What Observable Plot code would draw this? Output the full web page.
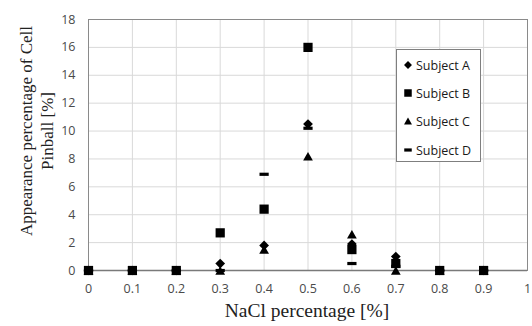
<!DOCTYPE html>
<html>
<head>
<meta charset="utf-8">
<script src="https://cdn.jsdelivr.net/npm/d3@7"></script>
<script src="https://cdn.jsdelivr.net/npm/@observablehq/plot@0.6"></script>
<style>
  body { margin: 0; background: #fff; }
  #wrap { position: relative; width: 532px; height: 326px; }
  #legend { position: absolute; left: 396px; top: 49px; width: 85px; height: 113px;
    border: 1px solid #7f7f7f; background: #fff; font-family: "Open Sans", sans-serif;
    font-size: 12.5px; color: #1a1a1a; box-sizing: border-box; }
  #legend .row { position: absolute; left: 6px; height: 16px; display: flex; align-items: center; }
  #legend svg { margin-right: 3px; }
</style>
</head>
<body>
<div id="wrap"><div id="legend"></div></div>
<script>
const nacl = [0, 0.1, 0.2, 0.3, 0.4, 0.5, 0.6, 0.7, 0.8, 0.9];
const subjects = ["Subject A", "Subject B", "Subject C", "Subject D"];
const subjectA = [0, 0, 0, 0.5, 1.8, 10.5, 1.9, 1.0, 0, 0];
const subjectB = [0, 0, 0, 2.7, 4.4, 16.0, 1.5, 0.5, 0, 0];
const subjectC = [0, 0, 0, 0, 1.5, 8.2, 2.6, 0, 0, 0];
const subjectD = [0, 0, 0, 0, 6.9, 10.2, 0.5, 0.3, 0, 0];
const xTicks = [0, 0.1, 0.2, 0.3, 0.4, 0.5, 0.6, 0.7, 0.8, 0.9, 1];
const yTicks = [0, 2, 4, 6, 8, 10, 12, 14, 16, 18];

// custom symbols (Excel-like markers)
const diamond = {draw(c, size) { const h = Math.sqrt(size) * 0.55; c.moveTo(0, -h); c.lineTo(h, 0); c.lineTo(0, h); c.lineTo(-h, 0); c.closePath(); }};
const square = {draw(c, size) { const h = Math.sqrt(size) * 0.52; c.rect(-h, -h, 2 * h, 2 * h); }};
const triangle = {draw(c, size) { const w = Math.sqrt(size) * 0.55, h = Math.sqrt(size) * 0.48; c.moveTo(0, -h); c.lineTo(w, h); c.lineTo(-w, h); c.closePath(); }};
const dash = {draw(c, size) { const w = Math.sqrt(size) * 0.52; c.rect(-w, -1.6, 2 * w, 3.2); }};
const symbols = [diamond, square, triangle, dash];
const series = [subjectA, subjectB, subjectC, subjectD];

const data = [];
series.forEach((vals, i) => vals.forEach((v, j) => data.push({subject: subjects[i], x: nacl[j], y: v})));

const sans = '"Open Sans", sans-serif';
const plot = Plot.plot({
  width: 532, height: 326,
  marginLeft: 88, marginRight: 5, marginTop: 19, marginBottom: 56,
  style: {fontFamily: sans, fontSize: "12.5px", color: "#4a4a4a", background: "#fff"},
  x: {domain: [0, 1], ticks: xTicks, tickFormat: d => String(d), tickSize: 0, tickPadding: 14, label: null},
  y: {domain: [0, 18], ticks: yTicks, tickSize: 0, tickPadding: 13, label: null},
  symbol: {domain: subjects, range: symbols},
  marks: [
    Plot.gridX(xTicks, {stroke: "#d9d9d9", strokeOpacity: 1}),
    Plot.gridY(yTicks, {stroke: "#d9d9d9", strokeOpacity: 1}),
    Plot.frame({stroke: "#8a8a8a"}),
    Plot.ruleY([0], {stroke: "#7a7a7a", strokeWidth: 1.3}),
    Plot.axisX({ticks: xTicks, tickFormat: d => String(d), tickSize: 0, tickPadding: 14, fill: "#4a4a4a"}),
    Plot.axisY({ticks: yTicks, tickSize: 0, tickPadding: 13, fill: "#4a4a4a"}),
    Plot.dot(data, {x: "x", y: "y", symbol: "subject", fill: "#000", stroke: "none", r: 5})
  ]
});
document.getElementById("wrap").prepend(plot);

// axis titles (serif, as in the reference)
const svg = d3.select(plot);
svg.append("text").attr("x", 307).attr("y", 317).attr("text-anchor", "middle")
  .attr("font-family", '"Liberation Serif", "Times New Roman", serif').attr("font-size", "19.5px")
  .attr("fill", "#222").text("NaCl percentage [%]");
const yt = svg.append("text").attr("transform", "translate(0,131) rotate(-90)").attr("text-anchor", "middle")
  .attr("font-family", '"Liberation Serif", "Times New Roman", serif').attr("font-size", "17px").attr("fill", "#222");
yt.append("tspan").attr("x", 0).attr("y", 32).text("Appearance percentage of Cell");
yt.append("tspan").attr("x", 0).attr("y", 53).text("Pinball [%]");

// legend
const legend = d3.select("#legend");
const rowsY = [7, 35, 63, 92];
subjects.forEach((s, i) => {
  const row = legend.append("div").attr("class", "row").style("top", rowsY[i] + "px");
  const sv = row.append("svg").attr("width", 10).attr("height", 10);
  const p = d3.path();
  symbols[i].draw(p, 52);
  sv.append("path").attr("transform", "translate(5,5)").attr("d", p.toString()).attr("fill", "#000");
  row.append("span").text(s);
});
</script>
</body>
</html>
